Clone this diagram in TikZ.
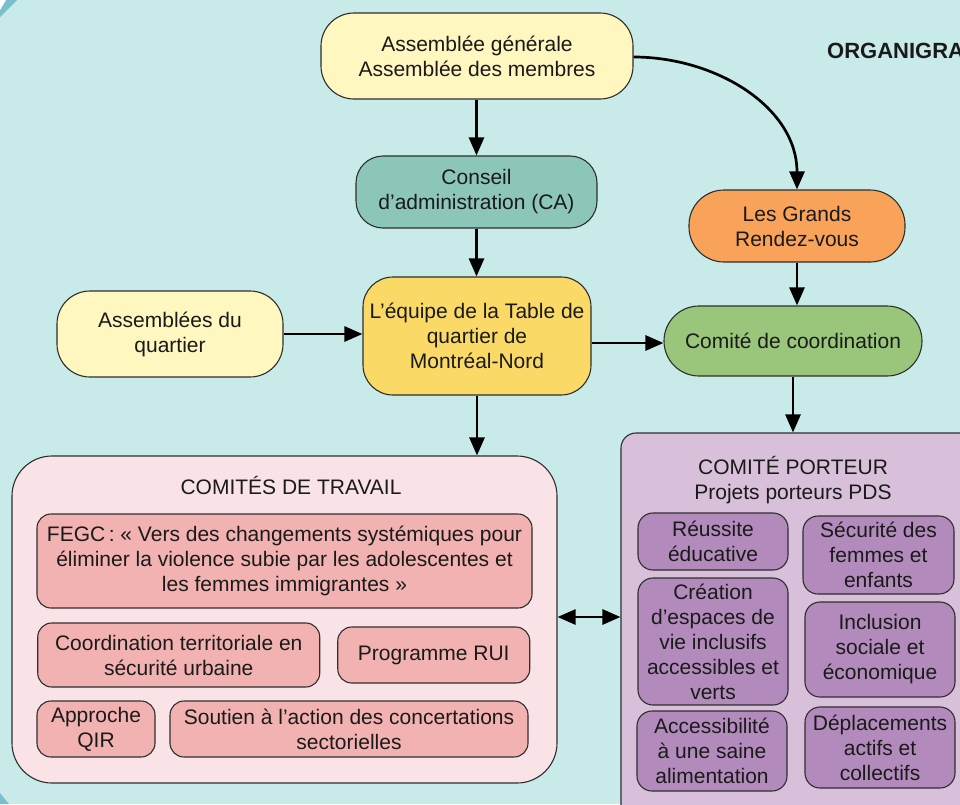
\documentclass[tikz,border=0pt]{standalone}
\usepackage{fontspec}
\setmainfont{Liberation Sans}
\usetikzlibrary{arrows.meta}
\definecolor{bgc}{HTML}{C8EBEA}
\definecolor{edgec}{HTML}{7BBFCC}
\definecolor{paley}{HTML}{FFF6C0}
\definecolor{tealb}{HTML}{8CC6B8}
\definecolor{golden}{HTML}{FAD966}
\definecolor{orangeb}{HTML}{F9A35A}
\definecolor{greenb}{HTML}{99C67A}
\definecolor{pinko}{HTML}{FAE3E6}
\definecolor{pinki}{HTML}{F3B2B2}
\definecolor{purpo}{HTML}{D8C0DA}
\definecolor{purpi}{HTML}{B28BBC}
\definecolor{ink}{HTML}{1A1A1A}
\definecolor{rim}{HTML}{2E2E2E}
\begin{document}
\begin{tikzpicture}[x=1pt,y=-1pt,
  box/.style={draw=rim, line width=1.1pt, align=center, text=ink,
    font=\fontsize{21}{25}\selectfont, inner sep=0pt},
  lbl/.style={align=center, text=ink, font=\fontsize{21}{25}\selectfont, inner sep=0pt},
  conn/.style={draw=black, line width=2.7pt, -{Triangle[length=18pt,width=15pt]}},
  both/.style={draw=black, line width=2.7pt,
    {Triangle[length=18pt,width=15pt]}-{Triangle[length=18pt,width=15pt]}}]
\useasboundingbox (0,0) rectangle (960,804);
\fill[bgc] (0,0) rectangle (960,804);
\fill[edgec] (0,0) -- (17,0) -- (0,17) -- cycle;
\fill[white] (0,0) -- (6,0) -- (0,10) -- cycle;
\fill[edgec] (0,793) -- (9,804) -- (0,804) -- cycle;

\node[anchor=base west, font=\bfseries\fontsize{22}{26}\selectfont, text=ink, inner sep=0pt]
  (title) at (827,58) {ORGANIGRAMME};

% top chain
\node[box, fill=paley, rounded corners=33pt, minimum width=312pt, minimum height=86pt]
  (ag) at (477,56) {Assemblée générale\\Assemblée des membres};
\node[box, fill=tealb, rounded corners=27pt, minimum width=241pt, minimum height=72pt]
  (ca) at (476.5,192) {Conseil\\d’administration (CA)};
\node[box, fill=golden, rounded corners=30pt, minimum width=228pt, minimum height=118pt]
  (eq) at (477,336) {L’équipe de la Table de\\quartier de\\Montréal-Nord};
\node[box, fill=paley, rounded corners=33pt, minimum width=226pt, minimum height=86pt]
  (aq) at (170,334) {Assemblées du\\quartier};
\node[box, fill=orangeb, rounded corners=35pt, minimum width=216pt, minimum height=72pt]
  (grv) at (797,226) {Les Grands\\Rendez-vous};
\node[box, fill=greenb, rounded corners=35pt, minimum width=258pt, minimum height=70pt]
  (cc) at (793,341) {Comité de coordination};

% comités de travail
\node[box, fill=pinko, rounded corners=40pt, minimum width=545pt, minimum height=327pt]
  (trav) at (284.5,619.5) {};
\node[lbl] (travt) at (291,485) {COMITÉS DE TRAVAIL};
\node[box, fill=pinki, rounded corners=14pt, minimum width=495pt, minimum height=94pt]
  (fegc) at (284.5,561) {FEGC\,:~«~Vers des changements systémiques pour\\éliminer la violence subie par les adolescentes et\\les femmes immigrantes~»};
\node[box, fill=pinki, rounded corners=14pt, minimum width=282pt, minimum height=64pt]
  (cts) at (178.75,655) {Coordination territoriale en\\sécurité urbaine};
\node[box, fill=pinki, rounded corners=14pt, minimum width=192pt, minimum height=56pt]
  (rui) at (433.75,655) {Programme RUI};
\node[box, fill=pinki, rounded corners=14pt, minimum width=118pt, minimum height=56pt]
  (qir) at (96,729) {Approche\\QIR};
\node[box, fill=pinki, rounded corners=14pt, minimum width=358pt, minimum height=56pt]
  (sout) at (349,729) {Soutien à l’action des concertations\\sectorielles};

% comité porteur
\node[box, fill=purpo, rounded corners=15pt, minimum width=354pt, minimum height=387pt]
  (port) at (798,626.5) {};
\node[lbl] (portt) at (793,480.5) {COMITÉ PORTEUR\\Projets porteurs PDS};
\node[box, fill=purpi, rounded corners=15pt, minimum width=150pt, minimum height=57pt]
  (reu) at (713,541.5) {Réussite\\éducative};
\node[box, fill=purpi, rounded corners=15pt, minimum width=151pt, minimum height=78pt]
  (sec) at (878.5,555) {Sécurité des\\femmes et\\enfants};
\node[box, fill=purpi, rounded corners=15pt, minimum width=150pt, minimum height=127pt]
  (cre) at (713,641.5) {Création\\d’espaces de\\vie inclusifs\\accessibles et\\verts};
\node[box, fill=purpi, rounded corners=15pt, minimum width=150pt, minimum height=95pt]
  (inc) at (880,649.5) {Inclusion\\sociale et\\économique};
\node[box, fill=purpi, rounded corners=15pt, minimum width=150pt, minimum height=80pt]
  (acc) at (712,751) {Accessibilité\\à une saine\\alimentation};
\node[box, fill=purpi, rounded corners=15pt, minimum width=150pt, minimum height=81pt]
  (dep) at (880,747.5) {Déplacements\\actifs et\\collectifs};

% connectors
\coordinate (r1) at (628,343);
\coordinate (r2) at (588,617);
\draw[conn] (ag.south -| ca.north) -- (ca.north);
\draw[conn] (ca.south) -- (ca.south |- eq.north);
\draw[conn] (aq.east) -- (aq.east -| eq.west);
\draw[conn] (eq.east |- r1) -- (cc.west |- r1);
\draw[conn] (eq.south) -- (eq.south |- trav.north);
\draw[conn] ([yshift=-1pt]ag.east) to[out=0,in=90] (grv.north);
\draw[conn] (grv.south) -- (grv.south |- cc.north);
\draw[conn] (cc.south) -- (cc.south |- port.north);
\draw[both] (trav.east |- r2) -- (port.west |- r2);
\end{tikzpicture}
\end{document}
